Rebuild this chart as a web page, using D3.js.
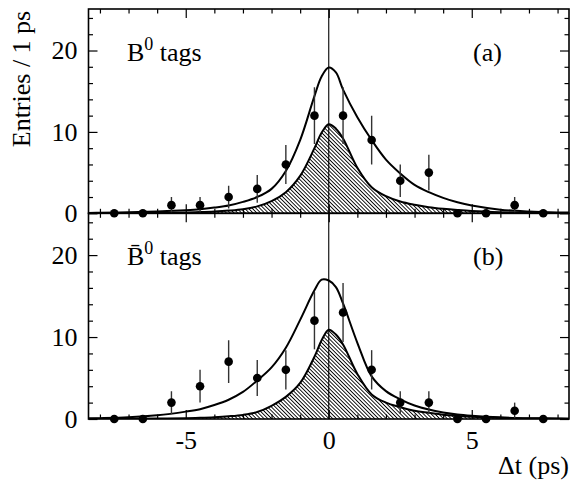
<!DOCTYPE html>
<html>
<head>
<meta charset="utf-8">
<script src="https://cdn.jsdelivr.net/npm/d3@7"></script>
<style>
    body { margin: 0; background: #fff; }
    .tick line { stroke: #000; stroke-width: 1.2; }
</style>
</head>
<body>
<div id="chart"></div>
<script>
/*
    Histogram bins (bin centres in ps) and counts per panel
*/
var binCenters = [-7.5, -6.5, -5.5, -4.5, -3.5, -2.5, -1.5, -0.5, 0.5, 1.5, 2.5, 3.5, 4.5, 5.5, 6.5, 7.5];
var countsB0 = [0, 0, 1, 1, 2, 3, 6, 12, 12, 9, 4, 5, 0, 0, 1, 0];
var errorsB0 = [0, 0, 1, 1, 1.4, 1.7, 2.4, 3.5, 3.5, 3, 2, 2.2, 0, 0, 1, 0];
var countsB0bar = [0, 0, 2, 4, 7, 5, 6, 12, 13, 6, 2, 2, 0, 0, 1, 0];
var errorsB0bar = [0, 0, 1.4, 2, 2.6, 2.2, 2.4, 3.5, 3.6, 2.4, 1.4, 1.4, 0, 0, 1, 0];
/*
    Fit curves at these times
*/
var curveT = [-8.4, -8, -7, -6, -5, -4.5, -4, -3.5, -3, -2.5, -2, -1.5, -1, -0.5, -0.25, 0,
    0.25, 0.5, 1, 1.5, 2, 2.5, 3, 3.5, 4, 4.5, 5, 6, 7, 8, 8.4];
var totalB0 = [0.05, 0.06, 0.12, 0.22, 0.38, 0.5, 0.7, 0.95, 1.4, 2.0, 3.0, 5.2, 9.0, 14.4, 16.8, 17.9,
    17.3, 15.2, 11.8, 9.0, 6.6, 4.9, 3.5, 2.6, 1.9, 1.35, 0.95, 0.45, 0.22, 0.11, 0.09];
var hatchB0 = [0.01, 0.02, 0.03, 0.05, 0.1, 0.15, 0.22, 0.33, 0.5, 0.85, 1.5, 2.6, 4.6, 8.0, 9.9, 10.95,
    10.4, 9.2, 5.6, 3.2, 2.1, 1.45, 1.05, 0.75, 0.55, 0.4, 0.28, 0.14, 0.07, 0.04, 0.03];
var totalB0bar = [0.08, 0.1, 0.2, 0.45, 0.9, 1.2, 1.7, 2.35, 3.3, 4.7, 6.3, 8.7, 12.1, 15.7, 17.0, 16.9,
    16.1, 14.1, 9.3, 5.2, 3.4, 2.4, 1.65, 1.15, 0.8, 0.55, 0.4, 0.2, 0.1, 0.05, 0.04];
var hatchB0bar = [0.01, 0.02, 0.03, 0.05, 0.1, 0.15, 0.22, 0.33, 0.5, 0.85, 1.6, 2.7, 4.4, 7.6, 9.6, 10.9,
    10.3, 9.1, 5.5, 3.0, 2.0, 1.45, 1.0, 0.75, 0.52, 0.38, 0.27, 0.13, 0.07, 0.04, 0.03];
/*
    Axis ticks
*/
var xMajor = [-5, 0, 5];
var xMinor = [-8, -7, -6, -4, -3, -2, -1, 1, 2, 3, 4, 6, 7, 8];
var yMajor = [0, 10, 20];
var yMinor = [2, 4, 6, 8, 12, 14, 16, 18, 22, 24];

var realW = 570, realH = 481;
var frameL = 88.5, frameR = 569, topY = 9, midY = 213.3, botY = 419;
var serif = "'Liberation Serif', 'Times New Roman', Times, serif";

var svg = d3.select("#chart").append("svg")
    .attr("width", realW)
    .attr("height", realH);

var defs = svg.append("defs");
defs.append("pattern")
    .attr("id", "hatch")
    .attr("patternUnits", "userSpaceOnUse")
    .attr("width", 2.7)
    .attr("height", 2.7)
    .attr("patternTransform", "rotate(-45)")
    .append("line")
    .attr("x1", 1.35).attr("y1", -1)
    .attr("x2", 1.35).attr("y2", 4)
    .attr("stroke", "#000")
    .attr("stroke-width", 0.9);

var x = d3.scaleLinear().domain([-8.4, 8.4]).range([frameL, frameR]);
var smooth = d3.curveCatmullRom.alpha(0.5);

var panels = [
    { id: "a", y0: midY, y1: topY, counts: countsB0, errs: errorsB0, total: totalB0, hatch: hatchB0,
      bar: false, tag: "(a)", labelsX: false },
    { id: "b", y0: botY, y1: midY, counts: countsB0bar, errs: errorsB0bar, total: totalB0bar, hatch: hatchB0bar,
      bar: true, tag: "(b)", labelsX: true }
];

panels.forEach(function (p) {
    var y = d3.scaleLinear().domain([0, 25.1]).range([p.y0, p.y1]);
    var g = svg.append("g").attr("id", "panel-" + p.id);

    defs.append("clipPath").attr("id", "clip-" + p.id)
        .append("rect")
        .attr("x", frameL).attr("y", p.y1)
        .attr("width", frameR - frameL).attr("height", p.y0 - p.y1);

    var plot = g.append("g").attr("clip-path", "url(#clip-" + p.id + ")");
    var pts = curveT.map(function (t, i) { return [t, p.total[i], p.hatch[i]]; });

    /*
        hatched component and its outline
    */
    plot.append("path")
        .datum(pts)
        .attr("fill", "url(#hatch)")
        .attr("d", d3.area()
            .x(function (d) { return x(d[0]); })
            .y0(y(0))
            .y1(function (d) { return y(d[2]); })
            .curve(smooth));
    plot.append("path")
        .datum(pts)
        .attr("fill", "none")
        .attr("stroke", "#000")
        .attr("stroke-width", 2)
        .attr("d", d3.line()
            .x(function (d) { return x(d[0]); })
            .y(function (d) { return y(d[2]); })
            .curve(smooth));
    /*
        total fit
    */
    plot.append("path")
        .datum(pts)
        .attr("fill", "none")
        .attr("stroke", "#000")
        .attr("stroke-width", 2)
        .attr("d", d3.line()
            .x(function (d) { return x(d[0]); })
            .y(function (d) { return y(d[1]); })
            .curve(smooth));

    /*
        data points with error bars
    */
    var data = binCenters.map(function (c, i) { return { t: c, n: p.counts[i], e: p.errs[i] }; });
    plot.append("g").selectAll("line")
        .data(data.filter(function (d) { return d.e > 0; }))
        .enter().append("line")
        .attr("x1", function (d) { return x(d.t); })
        .attr("x2", function (d) { return x(d.t); })
        .attr("y1", function (d) { return y(d.n - d.e); })
        .attr("y2", function (d) { return y(d.n + d.e); })
        .attr("stroke", "#333")
        .attr("stroke-width", 1.4);
    g.append("g").selectAll("circle")
        .data(data)
        .enter().append("circle")
        .attr("cx", function (d) { return x(d.t); })
        .attr("cy", function (d) { return y(d.n); })
        .attr("r", 4.3)
        .attr("fill", "#000");

    /*
        axes: ticks inside on all four sides
    */
    function addAxis(axis, transform, size, values, labels) {
        var a = g.append("g")
            .attr("transform", transform)
            .call(axis.tickValues(values).tickSize(size).tickPadding(12)
                .tickFormat(labels ? function (d) { return String(d); } : ""));
        a.select(".domain").remove();
        a.attr("font-family", serif).attr("font-size", 26);
        a.selectAll("text").style("font-family", serif).style("font-size", "26px");
        return a;
    }
    addAxis(d3.axisLeft(y), "translate(" + frameL + ",0)", -9, yMajor, true)
        .selectAll("text").attr("x", -11);
    addAxis(d3.axisLeft(y), "translate(" + frameL + ",0)", -4.5, yMinor, false);
    addAxis(d3.axisRight(y), "translate(" + frameR + ",0)", -9, yMajor, false);
    addAxis(d3.axisRight(y), "translate(" + frameR + ",0)", -4.5, yMinor, false);
    addAxis(d3.axisTop(x), "translate(0," + p.y1 + ")", -9, xMajor, false);
    addAxis(d3.axisTop(x), "translate(0," + p.y1 + ")", -4.5, xMinor, false);
    addAxis(d3.axisBottom(x), "translate(0," + p.y0 + ")", -9, xMajor, p.labelsX);
    addAxis(d3.axisBottom(x), "translate(0," + p.y0 + ")", -4.5, xMinor, false);

    g.append("rect")
        .attr("x", frameL).attr("y", p.y1)
        .attr("width", frameR - frameL).attr("height", p.y0 - p.y1)
        .attr("fill", "none")
        .attr("stroke", "#000")
        .attr("stroke-width", 1.6);

    /*
        panel labels
    */
    var tag = g.append("text")
        .attr("x", 127)
        .attr("y", p.y1 + 51.5)
        .style("font-family", serif)
        .style("font-size", "26px");
    tag.append("tspan").text(p.bar ? "B\u0304" : "B");
    tag.append("tspan").attr("dy", -11).style("font-size", "18px").text("0");
    tag.append("tspan").attr("dy", 11).text(" tags");

    g.append("text")
        .attr("x", 473)
        .attr("y", p.y1 + 51.5)
        .style("font-family", serif)
        .style("font-size", "26px")
        .text(p.tag);
});

/*
    zero line through both panels
*/
svg.append("line")
    .attr("x1", x(0)).attr("x2", x(0))
    .attr("y1", topY).attr("y2", botY)
    .attr("stroke", "#000")
    .attr("stroke-width", 1.1);

svg.append("text")
    .attr("transform", "translate(30," + 79 + ") rotate(-90)")
    .attr("text-anchor", "middle")
    .style("font-family", serif)
    .style("font-size", "26px")
    .text("Entries / 1 ps");

svg.append("text")
    .attr("x", 569)
    .attr("y", 474)
    .attr("text-anchor", "end")
    .style("font-family", serif)
    .style("font-size", "26px")
    .text("\u0394t (ps)");
</script>
</body>
</html>
